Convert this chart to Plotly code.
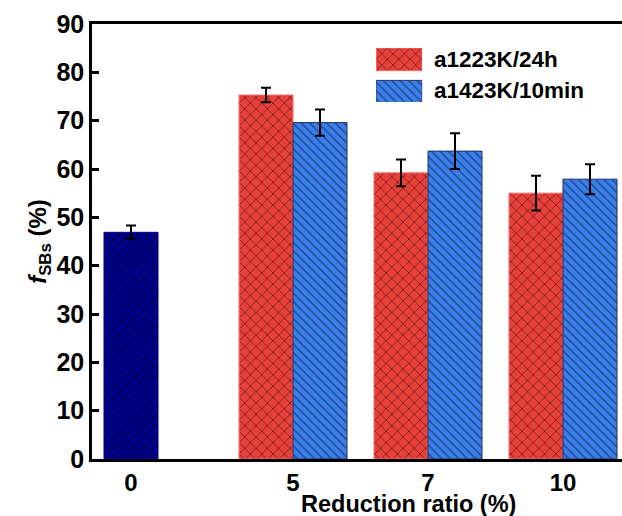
import plotly.graph_objects as go

categories = ["0", "5", "7", "10"]
group_pos = [0.0, 1.2, 2.2, 3.2]

base_value = [46.9]
base_err = [1.4]

series1_name = "a1223K/24h"
series1_vals = [75.3, 59.2, 55.0]
series1_err = [1.5, 2.75, 3.6]

series2_name = "a1423K/10min"
series2_vals = [69.6, 63.7, 57.9]
series2_err = [2.7, 3.7, 3.1]

RED = "#E8413A"
BLUE = "#3B7FEA"
NAVY = "#00008B"
FONT = "Arial, Liberation Sans, sans-serif"
bw = 0.4

red_marker = dict(color=RED, line=dict(color="#F07070", width=1),
                  pattern=dict(shape="x", fgcolor="#200000", size=8, solidity=0.22))
blue_marker = dict(color=BLUE, line=dict(color="#203060", width=1),
                   pattern=dict(shape="\\", fgcolor="#000820", size=6, solidity=0.22))
navy_marker = dict(color=NAVY, line=dict(color=NAVY, width=1),
                   pattern=dict(shape="/", fgcolor="#000020", size=7, solidity=0.25))

fig = go.Figure()

fig.add_trace(go.Bar(
    x=[group_pos[0]], y=base_value, width=bw, marker=navy_marker,
    error_y=dict(type="data", array=base_err, color="black", thickness=2, width=5),
    showlegend=False,
))

fig.add_trace(go.Bar(
    x=[p - bw / 2 for p in group_pos[1:]], y=series1_vals, width=bw,
    name=series1_name, marker=red_marker,
    error_y=dict(type="data", array=series1_err, color="black", thickness=2, width=5),
    showlegend=False,
))

fig.add_trace(go.Bar(
    x=[p + bw / 2 for p in group_pos[1:]], y=series2_vals, width=bw,
    name=series2_name, marker=blue_marker,
    error_y=dict(type="data", array=series2_err, color="black", thickness=2, width=5),
    showlegend=False,
))

# custom legend swatches (pattern-filled boxes) on an overlay axis
legend_names = [series1_name, series2_name]
legend_styles = [red_marker, blue_marker]
legend_text_y = [0.918, 0.846]
for i, (nm, st) in enumerate(zip(legend_names, legend_styles)):
    row_top = 1 - i * 0.6
    fig.add_trace(go.Bar(
        x=[0.5], y=[0.42], base=[row_top - 0.42], width=1,
        marker=st, xaxis="x2", yaxis="y2", showlegend=False, hoverinfo="skip",
    ))
    fig.add_annotation(
        x=0.641, y=legend_text_y[i], xref="paper", yref="paper", text=f"<b>{nm}</b>",
        showarrow=False, xanchor="left", yanchor="middle",
        font=dict(family=FONT, size=22.5, color="black"),
    )

fig.add_annotation(
    x=371 / 622, y=0, xref="paper", yref="paper", yshift=-60,
    text="<b>Reduction ratio (%)</b>", showarrow=False,
    xanchor="center", yanchor="bottom",
    font=dict(family=FONT, size=23.5, color="black"),
)

fig.update_layout(
    width=622, height=516,
    margin=dict(l=92, r=0, t=24, b=57),
    paper_bgcolor="white", plot_bgcolor="white",
    barmode="overlay",
    font=dict(family=FONT, color="black"),
    xaxis=dict(
        range=[-0.289, 3.637], tickvals=group_pos,
        ticktext=[f"<b>{c}</b>" for c in categories],
        tickfont=dict(family=FONT, size=24, color="black"),
        showline=True, linecolor="black", linewidth=2.5, mirror=True,
        ticks="", showgrid=False, zeroline=False, fixedrange=True,
    ),
    yaxis=dict(
        range=[0, 90],
        tickvals=list(range(0, 91, 10)),
        ticktext=[f"<b>{v}</b>" for v in range(0, 91, 10)],
        tickfont=dict(family=FONT, size=25, color="black"),
        showline=True, linecolor="black", linewidth=2.5,
        ticks="inside", ticklen=7, tickwidth=2.5, tickcolor="black",
        showgrid=False, zeroline=False,
        title=dict(text="<b><i>f</i></b><sub><b>SBs</b></sub><b> (%)</b>",
                   font=dict(family=FONT, size=24, color="black"), standoff=4),
    ),
    xaxis2=dict(domain=[0.536, 0.623], range=[0, 1], visible=False,
                anchor="y2", fixedrange=True),
    yaxis2=dict(domain=[0.8207, 0.9448], range=[0, 1], visible=False,
                anchor="x2", fixedrange=True),
)

fig.write_html("out.html")
